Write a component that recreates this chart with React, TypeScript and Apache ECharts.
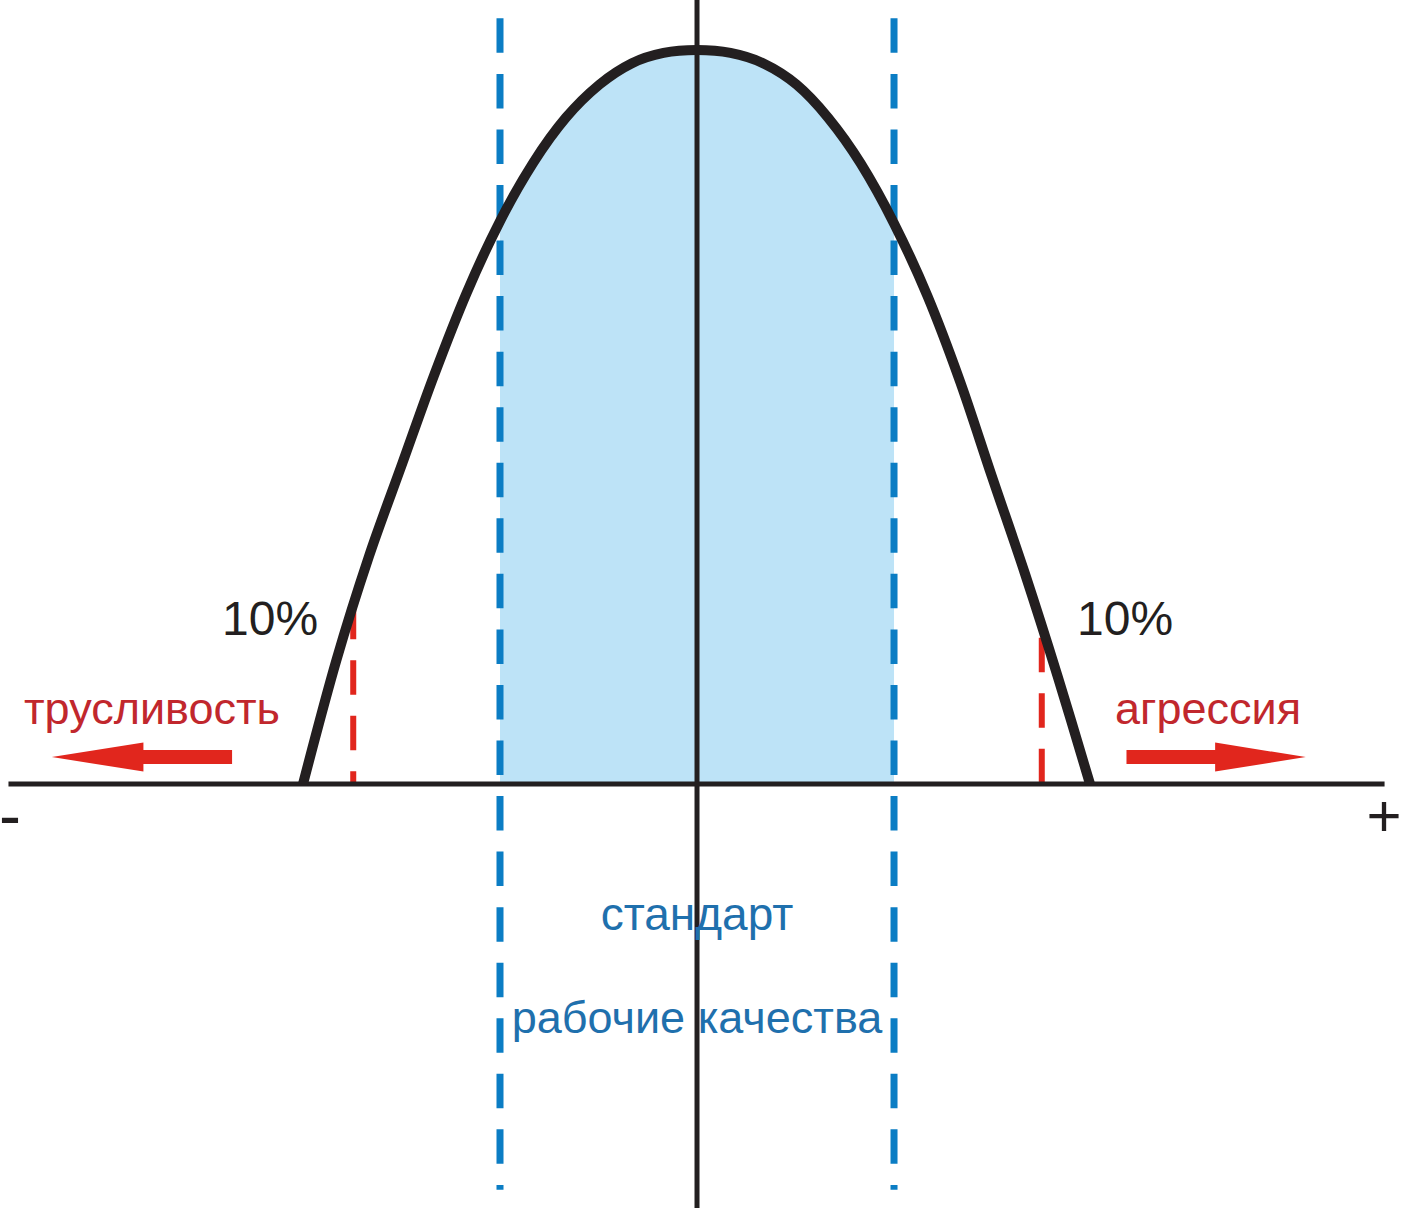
import React, { useEffect, useRef } from "react";
import * as echarts from "echarts";

// Bell-shaped curve (x in "sigma-like" units, y in % of peak height)
const curveX = [-4.0, -3.66, -3.33, -2.99, -2.67, -2.34, -2.0, -1.66, -1.33, -0.99, -0.66, -0.34, 0, 0.34, 0.67, 1.01, 1.33, 1.66, 2.0, 2.34, 2.67, 2.99, 3.33, 3.66, 3.99];
const curveY = [0, 16.9, 31.0, 43.7, 55.6, 66.8, 76.6, 84.6, 90.7, 95.2, 98.1, 99.5, 99.9, 99.5, 98.1, 95.2, 90.7, 84.5, 76.3, 66.4, 54.8, 42.0, 28.6, 14.7, 0];

// "standard" zone bounds (blue dashed lines)
const standardBounds = [-2, 2];
const standardLineTop = 104.2;
const standardLineBottom = -55.2;

// 10% tails (red dashed lines)
const tailMarkX = [-3.49, 3.5];
const tailMarkTop = [24.4, 19.9];

// axes extents
const axisXExtent = [-6.99, 6.98];
const axisYExtent = [106.7, -57.7];

// arrows: tail, head base, tip (x) and shared y
const arrowTail = [-4.72, 4.36];
const arrowHeadBase = [-5.62, 5.26];
const arrowTip = [-6.55, 6.18];
const arrowY = 3.67;

const percentLabels = ["10%", "10%"];
const sideLabels = ["трусливость", "агрессия"];
const centerLabels = ["стандарт", "рабочие качества"];
const signLabels = ["-", "+"];

const FONT = '"Liberation Sans", Arial, sans-serif';
const BLACK = "#231f20";
const BLUE_LINE = "#0b7dc4";
const BLUE_FILL = "#bde3f7";
const BLUE_TEXT = "#1f70ad";
const RED_LINE = "#e1261d";
const RED_TEXT = "#c1272d";

export default function App() {
  const ref = useRef<HTMLDivElement>(null);

  useEffect(() => {
    document.body.style.margin = "0";
    document.body.style.overflow = "hidden";
    const chart = echarts.init(ref.current!, undefined, { renderer: "svg" });

    const curveData = curveX.map((x, i) => [x, curveY[i]]);
    const fillData = curveData.filter(
      (p) => p[0] >= standardBounds[0] && p[0] <= standardBounds[1]
    );

    const vline = (x: number, top: number, bottom: number, color: string, width: number, dash: any, z: number) => ({
      type: "line",
      data: [
        [x, top],
        [x, bottom],
      ],
      symbol: "none",
      silent: true,
      z,
      lineStyle: { color, width, type: dash, cap: "butt" },
    });

    const series: any[] = [
      {
        type: "line",
        data: fillData,
        smooth: 0.33,
        symbol: "none",
        silent: true,
        z: 1,
        lineStyle: { width: 0, opacity: 0 },
        areaStyle: { color: BLUE_FILL, opacity: 1 },
      },
      ...standardBounds.map((x) =>
        vline(x, standardLineTop, standardLineBottom, BLUE_LINE, 7, [34.5, 21.05], 2)
      ),
      ...tailMarkX.map((x, i) => vline(x, tailMarkTop[i], 0, RED_LINE, 6, [34.5, 21], 2)),
      vline(0, axisYExtent[0], axisYExtent[1], BLACK, 5, "solid", 3),
      {
        type: "line",
        data: [
          [axisXExtent[0], 0],
          [axisXExtent[1], 0],
        ],
        symbol: "none",
        silent: true,
        z: 3,
        lineStyle: { color: BLACK, width: 5, cap: "butt" },
      },
      {
        type: "line",
        data: curveData,
        smooth: 0.33,
        symbol: "none",
        silent: true,
        z: 5,
        lineStyle: { color: BLACK, width: 10, cap: "butt", join: "round" },
      },
      {
        type: "custom",
        silent: true,
        z: 4,
        data: arrowTail.map((t, i) => [t, arrowHeadBase[i], arrowTip[i], arrowY]),
        renderItem: (params: any, api: any) => {
          const tail = api.coord([api.value(0), api.value(3)]);
          const base = api.coord([api.value(1), api.value(3)]);
          const tip = api.coord([api.value(2), api.value(3)]);
          const y = tail[1];
          const sh = 7;
          const hh = 14.5;
          return {
            type: "polygon",
            shape: {
              points: [
                [tail[0], y - sh],
                [base[0], y - sh],
                [base[0], y - hh],
                [tip[0], y],
                [base[0], y + hh],
                [base[0], y + sh],
                [tail[0], y + sh],
              ],
            },
            style: { fill: RED_LINE },
          };
        },
      },
    ];

    const text = (t: string, x: number, y: number, size: number, fill: string, align: string) => ({
      type: "text",
      x,
      y,
      z: 10,
      silent: true,
      style: {
        text: t,
        fill,
        fontSize: size,
        fontFamily: FONT,
        align,
        verticalAlign: "middle",
      },
    });

    chart.setOption({
      animation: false,
      backgroundColor: "#ffffff",
      grid: { left: 0, top: 0, width: 1402, height: 1208, containLabel: false },
      xAxis: { type: "value", min: -7.076, max: 7.157, show: false },
      yAxis: { type: "value", min: -57.7, max: 106.7, show: false },
      series,
      graphic: [
        text(sideLabels[0], 24, 708, 45, RED_TEXT, "left"),
        text(sideLabels[1], 1115, 708, 45, RED_TEXT, "left"),
        text(percentLabels[0], 222, 618, 48, BLACK, "left"),
        text(percentLabels[1], 1077, 618, 48, BLACK, "left"),
        text(centerLabels[0], 697, 914, 46, BLUE_TEXT, "center"),
        text(centerLabels[1], 697, 1017, 45, BLUE_TEXT, "center"),
        text(signLabels[0], -1, 815, 66, BLACK, "left"),
        text(signLabels[1], 1384, 815, 60, BLACK, "center"),
      ],
    });

    return () => chart.dispose();
  }, []);

  return (
    <div
      ref={ref}
      style={{ position: "absolute", left: 0, top: 0, width: 1402, height: 1208 }}
    />
  );
}
